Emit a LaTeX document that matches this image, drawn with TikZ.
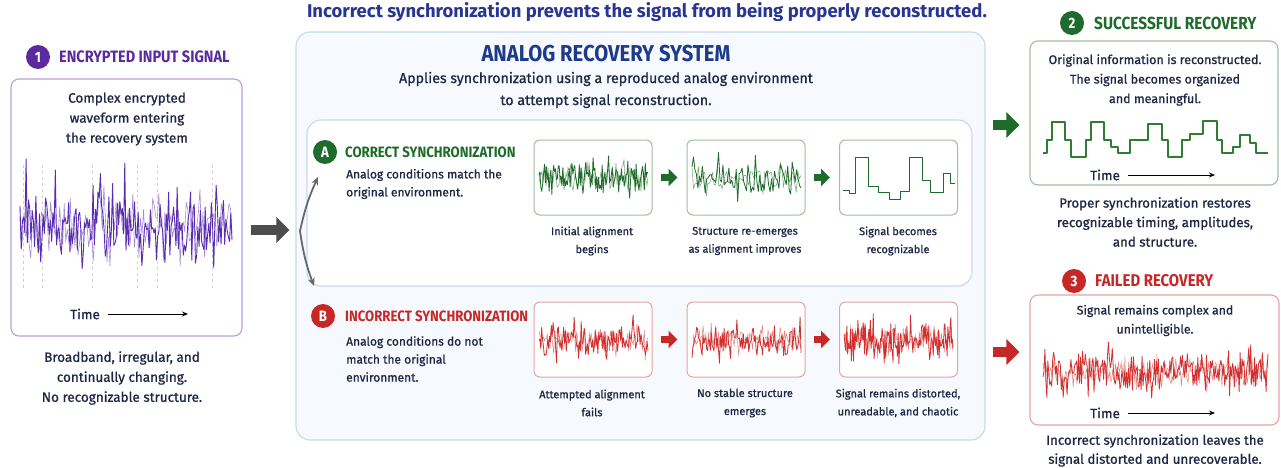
\documentclass[tikz,border=0pt]{standalone}
\usepackage{fontspec}
\setmainfont{Fira Sans}[UprightFeatures={FakeBold=0.9}]
\newfontfamily\headfont{Fira Sans}[FakeStretch=0.88]
\usetikzlibrary{arrows.meta}
\definecolor{navy}{HTML}{1E2745}
\definecolor{toptext}{HTML}{283593}
\definecolor{purp}{HTML}{5B2A9E}
\definecolor{purpwave}{HTML}{5A2DB0}
\definecolor{purplight}{HTML}{A58BD8}
\definecolor{purpborder}{HTML}{B9A0DD}
\definecolor{gdark}{HTML}{1F6B2B}
\definecolor{gwave}{HTML}{2E7D32}
\definecolor{gborder}{HTML}{9DBF9F}
\definecolor{rdark}{HTML}{C62828}
\definecolor{rwave}{HTML}{D32F2F}
\definecolor{rborder}{HTML}{E6A3A3}
\definecolor{bluetitle}{HTML}{1E3A8A}
\definecolor{bigfill}{HTML}{F6F9FE}
\definecolor{bigborder}{HTML}{C9D8F0}
\definecolor{arrowgray}{HTML}{4D4D4D}
\newcommand\nwave[7]{%
  \pgfmathsetseed{#7}%
  \draw[#6] plot[domain=#1:#2, samples=#5] (\x, {#3 + #4*(0.4*rand + 0.6*rand*abs(rand))});}
\tikzset{
  panel/.style={draw=#1, line width=1.1pt, rounded corners=8pt, fill=white},
  wbox/.style={draw=#1, line width=1pt, rounded corners=6pt, fill=white, minimum width=118, minimum height=75},
  badge/.style={circle, fill=#1, text=white, minimum size=24, inner sep=0, font=\headfont\bfseries\fontsize{15}{15}\selectfont},
  head/.style={text=#1, anchor=west, inner sep=0, font=\headfont\bfseries\fontsize{17}{17}\selectfont},
  body/.style={text=navy, align=center, inner sep=0},
  desc/.style={text=navy, align=left, anchor=west, inner sep=0, font=\fontsize{12}{18}\selectfont},
  caption/.style={text=navy, align=center, inner sep=0, font=\fontsize{11}{18}\selectfont},
  timelab/.style={text=navy, inner sep=0, anchor=west, font=\fontsize{13.5}{13.5}\selectfont},
  timearrow/.style={draw=black, line width=0.8pt, -{Stealth[length=6pt,width=5pt]}},
  smallarrow/.style={draw=#1, line width=7pt, -{Triangle[length=9pt,width=17pt]}, shorten <=8pt, shorten >=9pt},
  bigarrow/.style={draw=#1, line width=10pt, -{Triangle[length=13pt,width=25pt]}},
  splitarrow/.style={draw=arrowgray!85, line width=1.8pt, -{Stealth[length=8pt,width=7pt]}},
}
\begin{document}
\begin{tikzpicture}[x=1pt,y=-1pt]
\useasboundingbox (0,0) rectangle (1281,468);
\clip (0,0) rectangle (1281,468);
\fill[white] (0,0) rectangle (1281,468);

% top line
\node[text=toptext, inner sep=0, font=\bfseries\fontsize{18.5}{18.5}\selectfont] (toptxt) at (647,12) {Incorrect synchronization prevents the signal from being properly reconstructed.};

% ===== 1 Encrypted input =====
\node[badge=purp] (b1) at (38,57) {1};
\node[head=purp, font=\headfont\bfseries\fontsize{16.5}{16.5}\selectfont] (h1) at (59,57) {ENCRYPTED INPUT SIGNAL};
\node[panel=purpborder, minimum width=231, minimum height=257] (inbox) at (126.5,207.5) {};
\node[body, font=\fontsize{13.5}{20}\selectfont] (intext) at (127,119) {Complex encrypted\\waveform entering\\the recovery system};
\foreach \gx in {23,42,92,137,157,212}{
  \draw[gray!35, dashed, line width=0.5pt] (\gx,165) -- (\gx,290);
}
\nwave{20}{232}{226}{55}{140}{purplight, line width=0.6pt, line join=round}{7}
\nwave{20}{232}{226}{72}{175}{purpwave, line width=0.9pt, line join=round}{21}
\node[timelab] (time1) at (70,314) {Time};
\coordinate (t1end) at (188,314);
\draw[timearrow] ([xshift=8pt]time1.east) -- (t1end);
\node[body, font=\fontsize{13.5}{20}\selectfont] (inbelow) at (122,378) {Broadband, irregular, and\\continually changing.\\No recognizable structure.};

% ===== Analog recovery system =====
\node[draw=bigborder, line width=1.1pt, fill=bigfill, rounded corners=14pt, minimum width=689, minimum height=408] (bigbox) at (640.5,236) {};
\node[text=bluetitle, inner sep=0, font=\headfont\bfseries\fontsize{23}{23}\selectfont] (bigtitle) at (606,54) {ANALOG RECOVERY SYSTEM};
\node[body, font=\fontsize{14.2}{22}\selectfont] (bigsub) at (606,90) {Applies synchronization using a reproduced analog environment\\to attempt signal reconstruction.};

\node[draw=bigborder, line width=1.1pt, fill=white, rounded corners=14pt, minimum width=665, minimum height=166] (abox) at (639.5,203) {};

% A
\node[badge=gdark] (bA) at (325,152) {A};
\node[head=gdark, font=\headfont\bfseries\fontsize{15}{15}\selectfont] (hA) at (345,152) {CORRECT SYNCHRONIZATION};
\node[desc] (dA) at (346,184) {Analog conditions match the\\original environment.};
\node[wbox=gborder] (ga1) at (593,177.5) {};
\node[wbox=gborder] (ga2) at (746,177.5) {};
\node[wbox=gborder] (ga3) at (898.5,177.5) {};
\draw[smallarrow=gdark] (ga1.east) -- (ga2.west);
\draw[smallarrow=gdark] (ga2.east) -- (ga3.west);
\nwave{539}{648}{178}{26}{110}{gwave!70, line width=0.5pt}{3}
\nwave{539}{648}{178}{30}{120}{gdark, line width=0.8pt, line join=round}{11}
\nwave{692}{801}{178}{24}{70}{gwave!70, line width=0.5pt}{5}
\nwave{692}{801}{178}{32}{75}{gdark, line width=0.8pt, line join=round}{17}
\draw[gdark, line width=1pt, line join=round]
 (843,190)--(849,190)--(849,193)--(855,193)--(855,157)--(868,157)--(868,186)--(878,186)--(878,192)--(889,192)--(889,199)--(900,199)--(900,191)--(909,191)--(909,157)--(922,157)--(922,180)--(930,180)--(930,192)--(943,192)--(943,173)--(950,173)--(950,183)--(955,183);
\node[caption] (cA1) at (592,241) {Initial alignment\\begins};
\node[caption] (cA2) at (745,241) {Structure re-emerges\\as alignment improves};
\node[caption] (cA3) at (898,241) {Signal becomes\\recognizable};

% B
\node[badge=rdark] (bB) at (323,316) {B};
\node[head=rdark, font=\headfont\bfseries\fontsize{15}{15}\selectfont] (hB) at (345,316) {INCORRECT SYNCHRONIZATION};
\node[desc] (dB) at (346,359) {Analog conditions do not\\match the original\\environment.};
\node[wbox=rborder] (rb1) at (593,339.5) {};
\node[wbox=rborder] (rb2) at (746,339.5) {};
\node[wbox=rborder] (rb3) at (898.5,339.5) {};
\draw[smallarrow=rdark] (rb1.east) -- (rb2.west);
\draw[smallarrow=rdark] (rb2.east) -- (rb3.west);
\nwave{539}{648}{340}{22}{120}{rwave!60, line width=0.5pt}{31}
\nwave{539}{648}{340}{30}{125}{rwave, line width=0.8pt, line join=round}{37}
\nwave{692}{801}{340}{22}{120}{rwave!60, line width=0.5pt}{41}
\nwave{692}{801}{340}{30}{120}{rwave, line width=0.8pt, line join=round}{43}
\nwave{844}{953}{340}{24}{150}{rwave!60, line width=0.5pt}{47}
\nwave{844}{953}{340}{30}{150}{rwave, line width=0.8pt, line join=round}{53}
\node[caption] (cB1) at (592,403) {Attempted alignment\\fails};
\node[caption] (cB2) at (745,403) {No stable structure\\emerges};
\node[caption] (cB3) at (898,403) {Signal remains distorted,\\unreadable, and chaotic};

% split arrows and input arrow
\coordinate (split) at (300,231);
\coordinate (splitA) at (318,177);
\coordinate (splitB) at (314,286);
\draw[splitarrow] (split) to[bend left=6] (splitA);
\draw[splitarrow] (split) to[bend right=6] (splitB);
\coordinate (yin) at (0,230);
\draw[bigarrow=arrowgray, shorten <=8pt, shorten >=6pt] (inbox.east |- yin) -- (bigbox.west |- yin);

% ===== 2 Successful recovery =====
\node[badge=gdark] (b2) at (1072,23) {2};
\node[head=gdark, font=\headfont\bfseries\fontsize{17.5}{17.5}\selectfont] (h2) at (1094,23) {SUCCESSFUL RECOVERY};
\node[panel=gborder, minimum width=248, minimum height=144] (sbox) at (1154,113) {};
\node[body, font=\fontsize{12.5}{19.5}\selectfont] (stext) at (1155,80) {Original information is reconstructed.\\The signal becomes organized\\and meaningful.};
\draw[gwave, line width=1.1pt, line join=round]
 (1043,153)--(1047,153)--(1047,140)--(1052,140)--(1052,122)--(1065,122)--(1065,140)--(1071,140)--(1071,157)--(1086,157)--(1086,140)--(1091,140)--(1091,122)--(1104,122)--(1104,140)--(1111,140)--(1111,147)--(1118,147)--(1118,153)--(1130,153)--(1130,140)--(1148,140)--(1148,124)--(1162,124)--(1162,140)--(1168,140)--(1168,157)--(1182,157)--(1182,140)--(1190,140)--(1190,134)--(1203,134)--(1203,121)--(1217,121)--(1217,140)--(1222,140)--(1222,153)--(1233,153)--(1233,147)--(1240,147)--(1240,135)--(1250,135)--(1250,143)--(1256,143)--(1256,153)--(1268,153);
\node[timelab] (time2) at (1090,175) {Time};
\coordinate (t2end) at (1215,175);
\draw[timearrow] ([xshift=8pt]time2.east) -- (t2end);
\node[body, font=\fontsize{13.3}{19.5}\selectfont] (sbelow) at (1155,222) {Proper synchronization restores\\recognizable timing, amplitudes,\\and structure.};
\coordinate (ys) at (0,125);
\draw[bigarrow=gdark, shorten <=7pt, shorten >=10pt] (bigbox.east |- ys) -- (sbox.west |- ys);

% ===== 3 Failed recovery =====
\node[badge=rdark] (b3) at (1074,281) {3};
\node[head=rdark] (h3) at (1095,281) {FAILED RECOVERY};
\node[panel=rborder, minimum width=249, minimum height=130] (fbox) at (1154.5,360) {};
\node[body, font=\fontsize{12.3}{19}\selectfont] (ftext) at (1155,320.5) {Signal remains complex and\\unintelligible.};
\nwave{1043}{1268}{372}{24}{240}{rwave!60, line width=0.5pt}{61}
\nwave{1043}{1268}{372}{32}{235}{rwave, line width=0.8pt, line join=round}{67}
\node[timelab] (time3) at (1090,413) {Time};
\coordinate (t3end) at (1215,413);
\draw[timearrow] ([xshift=8pt]time3.east) -- (t3end);
\node[body, font=\fontsize{13.3}{19}\selectfont] (fbelow) at (1155,450.5) {Incorrect synchronization leaves the\\signal distorted and unrecoverable.};
\coordinate (yf) at (0,352);
\draw[bigarrow=rdark, shorten <=7pt, shorten >=10pt] (bigbox.east |- yf) -- (fbox.west |- yf);
\end{tikzpicture}
\end{document}
